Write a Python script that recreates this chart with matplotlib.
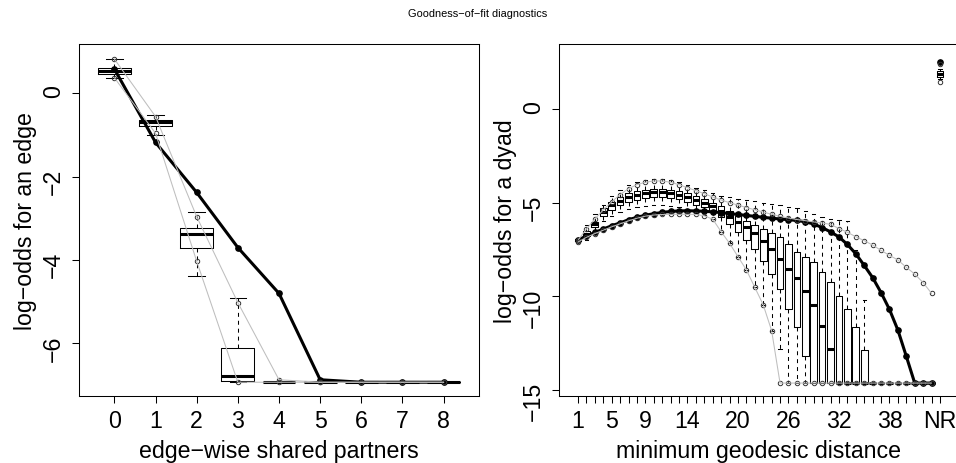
import matplotlib
matplotlib.use('Agg')
import matplotlib.pyplot as plt

plt.rcParams['font.family'] = ['Liberation Sans', 'DejaVu Sans']

# ---------------- data: edge-wise shared partners ----------------
FE = -6.93
esp_labels = ['0', '1', '2', '3', '4', '5', '6', '7', '8']
esp_obs = [0.58, -1.18, -2.38, -3.70, -4.80, -6.87, FE, FE, FE]
esp_q1 = [0.46, -0.79, -3.70, -6.91, FE, FE, FE, FE, FE]
esp_med = [0.54, -0.69, -3.38, -6.78, FE, FE, FE, FE, FE]
esp_q3 = [0.60, -0.64, -3.22, -6.11, FE, FE, FE, FE, FE]
esp_whislo = [0.36, -1.00, -4.38, FE, FE, FE, FE, FE, FE]
esp_whishi = [0.82, -0.52, -2.86, -4.90, FE, FE, FE, FE, FE]
esp_lo = [0.37, -0.96, -4.03, FE, FE, FE, FE, FE, FE]
esp_hi = [0.82, -0.56, -2.96, -5.02, -6.87, FE, FE, FE, FE]

# ---------------- data: minimum geodesic distance ----------------
FD = -14.63
dist_labels = [str(i) for i in range(1, 44)] + ['NR']
dist_shown = ['1', '5', '9', '14', '20', '26', '32', '38', 'NR']
dist_obs = [-6.99, -6.78, -6.59, -6.41, -6.23, -6.08, -5.91, -5.78, -5.67, -5.59,
            -5.52, -5.47, -5.44, -5.43, -5.44, -5.46, -5.49, -5.53, -5.58, -5.63,
            -5.68, -5.73, -5.78, -5.83, -5.87, -5.91, -5.95, -6.02, -6.14, -6.33,
            -6.56, -6.83, -7.23, -7.73, -8.35, -9.00, -9.80, -10.70, -11.80, -13.20,
            FD, FD, FD, 2.50]
dist_hi = [-7.00, -6.41, -5.87, -5.39, -4.95, -4.57, -4.25, -4.04, -3.91, -3.84,
           -3.84, -3.91, -4.04, -4.20, -4.36, -4.52, -4.70, -4.86, -5.00, -5.13,
           -5.26, -5.38, -5.50, -5.62, -5.73, -5.82, -5.90, -5.96, -6.03, -6.08,
           -6.16, -6.38, -6.58, -6.82, -7.03, -7.26, -7.55, -7.81, -8.06, -8.45,
           -8.81, -9.27, -9.84, 2.40]
dist_lo = [-7.10, -6.85, -6.65, -6.47, -6.29, -6.13, -5.97, -5.83, -5.72, -5.66,
           -5.63, -5.62, -5.62, -5.62, -5.63, -5.70, -5.88, -6.55, -7.17, -7.88,
           -8.59, -9.52, -10.45, -11.83] + [FD] * 19 + [1.45]
dist_q3 = [-6.95, -6.50, -6.05, -5.30, -4.95, -4.70, -4.50, -4.38, -4.30, -4.25,
           -4.25, -4.30, -4.38, -4.50, -4.65, -4.80, -5.00, -5.20, -5.45, -5.69,
           -5.96, -6.20, -6.41, -6.62, -6.85, -7.21, -7.62, -7.92, -8.19, -8.69,
           -9.26, -9.97, -10.68, -11.66, -12.85] + [FD] * 8 + [2.05]
dist_med = [-7.00, -6.65, -6.15, -5.50, -5.15, -4.90, -4.72, -4.60, -4.50, -4.45,
            -4.45, -4.50, -4.58, -4.70, -4.85, -5.00, -5.20, -5.45,
            -5.78, -6.05, -6.32, -6.62, -7.03, -7.47, -8.01, -8.54, -9.02, -9.70,
            -10.45, -11.60, -12.81] + [FD] * 12 + [1.88]
dist_q1 = [-7.05, -6.80, -6.30, -5.70, -5.40, -5.15, -4.95, -4.85, -4.75, -4.70,
           -4.70, -4.75, -4.82, -4.95, -5.10, -5.25, -5.45, -5.75,
           -6.14, -6.55, -7.00, -7.47, -8.10, -8.81, -9.61, -10.68, -11.62, -13.20] + [FD] * 15 + [1.72]
dist_whislo = [-7.10, -7.00, -6.50, -6.00, -5.70, -5.50, -5.35, -5.25, -5.20, -5.15,
               -5.15, -5.20, -5.25, -5.35, -5.50, -5.65, -5.85, -6.55,
               -7.17, -7.88, -8.59, -9.52, -10.45, -11.83, -12.80] + [FD] * 18 + [1.60]
dist_whishi = [-6.90, -6.20, -5.60, -5.10, -4.65, -4.30, -4.05, -3.90, -3.80, -3.75,
               -3.75, -3.80, -3.90, -4.05, -4.20, -4.35, -4.50, -4.62, -4.72, -4.80,
               -4.86, -4.93, -5.00, -5.07, -5.15, -5.22, -5.30, -5.43, -5.60, -5.78,
               -5.88, -5.93, -5.96, -7.50, -10.20] + [FD] * 8 + [2.15]

W, H = 956, 464
fig = plt.figure(figsize=(W / 100, H / 100), dpi=100)


def px_axes(l, t, r, b):
    return fig.add_axes([l / W, 1 - b / H, (r - l) / W, (b - t) / H])


ax1 = px_axes(79, 45, 479, 397)
ax2 = px_axes(559, 45, 959, 397)

LW = 0.75
FS = 16.7


def draw(ax, pos, q1, med, q3, wlo, whi, obs, lo, hi, nline):
    stats = [dict(q1=a, med=b, q3=c, whislo=d, whishi=e, fliers=[])
             for a, b, c, d, e in zip(q1, med, q3, wlo, whi)]
    ax.bxp(stats, positions=pos, widths=0.8, capwidths=0.4, showfliers=False,
           manage_ticks=False,
           boxprops=dict(color='black', lw=LW),
           medianprops=dict(color='black', lw=2.2, solid_capstyle='butt'),
           whiskerprops=dict(color='black', lw=LW, linestyle=(0, (3.8, 3.8))),
           capprops=dict(color='black', lw=LW))
    ax.plot(pos[:nline], obs[:nline], color='black', lw=2.2, zorder=4,
            solid_capstyle='butt')
    ax.plot(pos, obs, 'o', color='black', ms=3.8, zorder=4)
    for b in (hi, lo):
        ax.plot(pos, b, 'o', mfc='none', mec='#333333', ms=3.2, mew=0.7, zorder=5)
        ax.plot(pos[:nline], b[:nline], color='#BEBEBE', lw=LW, zorder=5)


# left panel
pos1 = list(range(len(esp_labels)))
draw(ax1, pos1, esp_q1, esp_med, esp_q3, esp_whislo, esp_whishi,
     esp_obs, esp_lo, esp_hi, len(pos1))
ax1.set_xlim(-0.86, 8.86)
ax1.set_ylim(-7.26, 1.18)
ax1.set_xticks(pos1)
ax1.set_xticklabels(esp_labels)
ax1.set_yticks([-6, -4, -2, 0])
ax1.set_yticklabels(['\u22126', '\u22124', '\u22122', '0'])
ax1.set_xlabel('edge\u2212wise shared partners', fontsize=FS, labelpad=5.5)
ax1.set_ylabel('log\u2212odds for an edge', fontsize=FS, labelpad=4)

# right panel
pos2 = list(range(1, len(dist_labels) + 1))
draw(ax2, pos2, dist_q1, dist_med, dist_q3, dist_whislo, dist_whishi,
     dist_obs, dist_lo, dist_hi, len(pos2) - 1)
ax2.set_xlim(-1.26, 46.26)
ax2.set_ylim(-15.32, 3.47)
ax2.set_xticks(pos2)
ax2.set_xticklabels([l if l in dist_shown else '' for l in dist_labels])
ax2.set_yticks([-15, -10, -5, 0])
ax2.set_yticklabels(['\u221215', '\u221210', '\u22125', '0'])
ax2.set_xlabel('minimum geodesic distance', fontsize=FS, labelpad=5.5)
ax2.set_ylabel('log\u2212odds for a dyad', fontsize=FS, labelpad=4)

for ax in (ax1, ax2):
    ax.tick_params(direction='out', length=5, width=LW, labelsize=FS,
                   color='black')
    ax.tick_params(axis='x', pad=4)
    ax.tick_params(axis='y', labelrotation=90, pad=5)
    for s in ax.spines.values():
        s.set_linewidth(LW)
        s.set_color('black')

fig.text(478 / W, 1 - 14 / H, 'Goodness\u2212of\u2212fit diagnostics',
         ha='center', va='center', fontsize=7.9)

fig.savefig('out.png', dpi=100)
